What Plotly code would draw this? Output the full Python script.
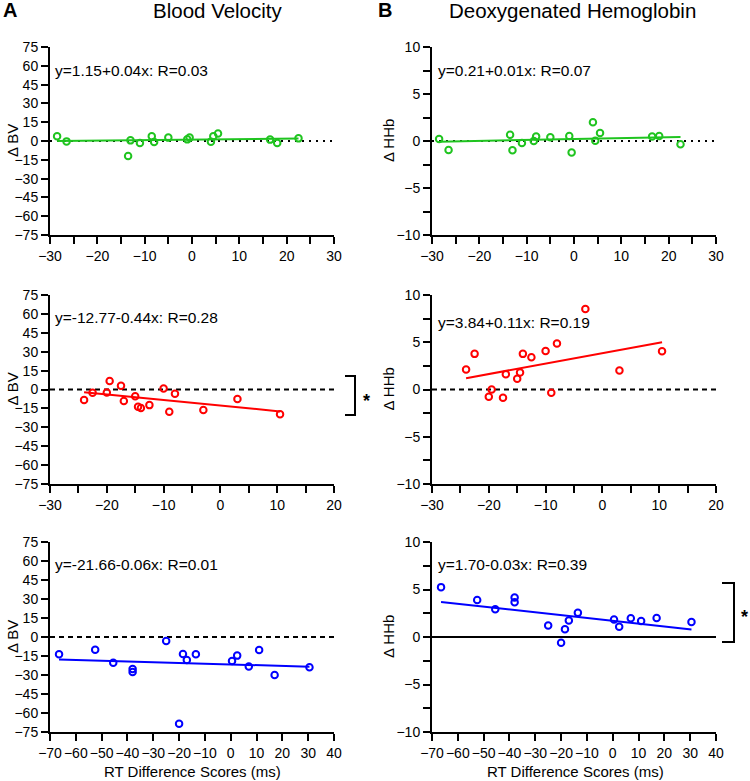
import plotly.graph_objects as go

# ---------------- data ----------------
rt_row1 = [-28.5, -26.5, -13.5, -13.0, -11.0, -8.5, -8.0, -5.0, -1.0, -0.5, 4.0, 4.5, 5.5, 16.5, 18.0, 22.5]
bv_row1 = [3.75, -0.3, -12.0, 0.5, -1.6, 3.75, -0.8, 2.7, 1.3, 2.7, -0.5, 3.75, 5.9, 1.1, -1.6, 2.1]
hhb_row1 = [0.21, -0.95, 0.67, -0.99, -0.21, 0.0, 0.49, 0.39, 0.53, -1.23, 2.0, 0.03, 0.85, 0.49, 0.53, -0.35]

rt_row2 = [-24.0, -22.5, -20.0, -19.5, -17.5, -17.0, -15.0, -14.5, -14.0, -12.5, -10.0, -9.0, -8.0, -3.0, 3.0, 10.5]
bv_row2 = [-8.4, -2.6, -2.4, 6.8, 2.9, -9.2, -5.3, -13.7, -14.7, -12.4, 0.8, -17.6, -3.4, -16.3, -7.6, -19.7]
hhb_row2 = [2.11, 3.77, -0.77, 0.0, -0.88, 1.62, 1.13, 1.8, 3.77, 3.42, 4.08, -0.35, 4.86, 8.52, 2.0, 4.05]

rt_row3 = [-66.5, -52.5, -45.5, -38.0, -38.0, -25.0, -20.0, -18.5, -17.0, -13.5, 0.5, 2.5, 7.0, 11.0, 17.0, 30.5]
bv_row3 = [-13.7, -10.0, -20.3, -25.3, -27.6, -3.2, -68.4, -13.4, -18.2, -13.7, -18.9, -14.7, -23.2, -10.3, -30.0, -23.9]
hhb_row3 = [5.25, 3.9, 2.92, 4.15, 3.66, 1.2, -0.6, 0.81, 1.73, 2.54, 1.83, 1.09, 1.97, 1.69, 2.0, 1.58]

bv_intercepts = [1.15, -12.77, -21.66]
bv_slopes = [0.04, -0.44, -0.06]
hhb_intercepts = [0.21, 3.84, 1.70]
hhb_slopes = [0.01, 0.11, -0.03]

bv_labels = ["y=1.15+0.04x: R=0.03", "y=-12.77-0.44x: R=0.28", "y=-21.66-0.06x: R=0.01"]
hhb_labels = ["y=0.21+0.01x: R=0.07", "y=3.84+0.11x: R=0.19", "y=1.70-0.03x: R=0.39"]

x_ranges = [[-30, 30], [-30, 20], [-70, 40]]
x_minor = [5, 5, None]
bv_range = [-75, 75]
hhb_range = [-10, 10]

col_titles = ["Blood Velocity", "Deoxygenated Hemoglobin"]
panel_letters = ["A", "B"]
y_titles = ["Δ BV", "Δ HHb"]
x_title = "RT Difference Scores (ms)"

row_colors = ["#1fc41f", "#ff0000", "#0000ff"]
bv_zero_dash = ["2px,5px", "5px,4px", "5px,4px"]
hhb_zero_dash = ["2px,5px", "5px,4px", "solid"]

# ---------------- layout helpers ----------------
W, H = 750, 781
def px(x):
    return x / W
def py(y):
    return 1 - y / H

col_dom = [[px(50), px(334)], [px(432), px(716)]]
row_dom_px = [(47, 235), (295, 484), (542, 732)]
row_dom = [[py(b), py(t)] for t, b in row_dom_px]

FONT = "Arial, Liberation Sans, sans-serif"

fig = go.Figure()
layout = dict(width=W, height=H, margin=dict(l=0, r=0, t=0, b=0),
              plot_bgcolor="white", paper_bgcolor="white", showlegend=False,
              font=dict(family=FONT, color="black"))
shapes = []
annotations = []

rows_x = [rt_row1, rt_row2, rt_row3]
rows_bv = [bv_row1, bv_row2, bv_row3]
rows_hhb = [hhb_row1, hhb_row2, hhb_row3]

idx = 0
for r in range(3):
    for c in range(2):
        idx += 1
        xs = rows_x[r]
        ys = rows_bv[r] if c == 0 else rows_hhb[r]
        b0 = bv_intercepts[r] if c == 0 else hhb_intercepts[r]
        b1 = bv_slopes[r] if c == 0 else hhb_slopes[r]
        label = bv_labels[r] if c == 0 else hhb_labels[r]
        yr = bv_range if c == 0 else hhb_range
        dash = bv_zero_dash[r] if c == 0 else hhb_zero_dash[r]
        xa = "x" if idx == 1 else f"x{idx}"
        ya = "y" if idx == 1 else f"y{idx}"
        color = row_colors[r]

        # zero reference line
        shapes.append(dict(type="line", xref=f"{xa} domain", yref=ya,
                           x0=0, x1=1, y0=0, y1=0, layer="below",
                           line=dict(color="black", width=2, dash=dash)))
        # fit line
        xmin, xmax = min(xs), max(xs)
        fig.add_trace(go.Scatter(x=[xmin, xmax], y=[b0 + b1 * xmin, b0 + b1 * xmax],
                                 mode="lines", line=dict(color=color, width=2),
                                 xaxis=xa, yaxis=ya, hoverinfo="skip"))
        # points
        fig.add_trace(go.Scatter(x=xs, y=ys, mode="markers",
                                 marker=dict(symbol="circle-open", size=6.5, color=color,
                                             line=dict(color=color, width=2)),
                                 xaxis=xa, yaxis=ya, cliponaxis=False))

        xkey = "xaxis" if idx == 1 else f"xaxis{idx}"
        ykey = "yaxis" if idx == 1 else f"yaxis{idx}"
        xaxis = dict(domain=col_dom[c], anchor=ya, range=x_ranges[r],
                     dtick=10, tick0=0, tickangle=0, showgrid=False, zeroline=False,
                     showline=True, linecolor="black", linewidth=2,
                     ticks="outside", ticklen=7, tickwidth=2, tickcolor="black",
                     tickfont=dict(size=14, family=FONT, color="black"),
                     automargin=False, fixedrange=True)
        if x_minor[r]:
            xaxis["minor"] = dict(dtick=x_minor[r], tick0=0, ticks="outside",
                                  ticklen=7, tickwidth=2, tickcolor="black", showgrid=False)
        yaxis = dict(domain=row_dom[r], anchor=xa, range=yr,
                     dtick=15 if c == 0 else 5, tick0=0, showgrid=False, zeroline=False,
                     showline=True, linecolor="black", linewidth=2,
                     ticks="outside", ticklen=7, tickwidth=2, tickcolor="black",
                     tickfont=dict(size=14, family=FONT, color="black"),
                     automargin=False, fixedrange=True)
        if c == 1:
            yaxis["minor"] = dict(dtick=2.5, tick0=0, ticks="outside",
                                  ticklen=7, tickwidth=2, tickcolor="black", showgrid=False)
        layout[xkey] = xaxis
        layout[ykey] = yaxis

        # equation text
        eq_y = [70, 317, 564][r] if c == 0 else [70, 322, 564][r]
        annotations.append(dict(text=label, xref="paper", yref="paper",
                                x=px(53 if c == 0 else 436), y=py(eq_y),
                                xanchor="left", yanchor="middle", showarrow=False,
                                font=dict(size=15.5, family=FONT, color="black")))
        # y-axis title
        t, b = row_dom_px[r]
        annotations.append(dict(text=y_titles[c], xref="paper", yref="paper",
                                x=px(12 if c == 0 else 388), y=py((t + b) / 2),
                                xanchor="center", yanchor="middle", textangle=-90,
                                showarrow=False,
                                font=dict(size=15, family=FONT, color="black")))

# column titles and panel letters
for c in range(2):
    annotations.append(dict(text=col_titles[c], xref="paper", yref="paper",
                            x=px([218, 572][c]), y=py(11), xanchor="center", yanchor="middle",
                            showarrow=False, font=dict(size=20.5, family=FONT, color="black")))
    annotations.append(dict(text=f"<b>{panel_letters[c]}</b>", xref="paper", yref="paper",
                            x=px([10, 385][c]), y=py(10), xanchor="center", yanchor="middle",
                            showarrow=False, font=dict(size=20, family=FONT, color="black")))
    annotations.append(dict(text=x_title, xref="paper", yref="paper",
                            x=px([192, 575][c]), y=py(771), xanchor="center", yanchor="middle",
                            showarrow=False, font=dict(size=15, family=FONT, color="black")))

# significance brackets
brackets = [(345, 355, 376, 415, 366, 401), (722, 734, 583, 642, 744, 617)]
for x0, x1, y0, y1, sx, sy in brackets:
    path = f"M {px(x0)},{py(y0)} L {px(x1)},{py(y0)} L {px(x1)},{py(y1)} L {px(x0)},{py(y1)}"
    shapes.append(dict(type="path", xref="paper", yref="paper", path=path,
                       line=dict(color="black", width=2)))
    annotations.append(dict(text="<b>*</b>", xref="paper", yref="paper",
                            x=px(sx), y=py(sy), xanchor="center", yanchor="middle",
                            showarrow=False, font=dict(size=18, family=FONT, color="black")))

layout["shapes"] = shapes
layout["annotations"] = annotations
fig.update_layout(**layout)
fig.write_html("out.html", config={"displayModeBar": False},
               post_script="document.body.style.margin='0';document.body.style.overflow='hidden';")
